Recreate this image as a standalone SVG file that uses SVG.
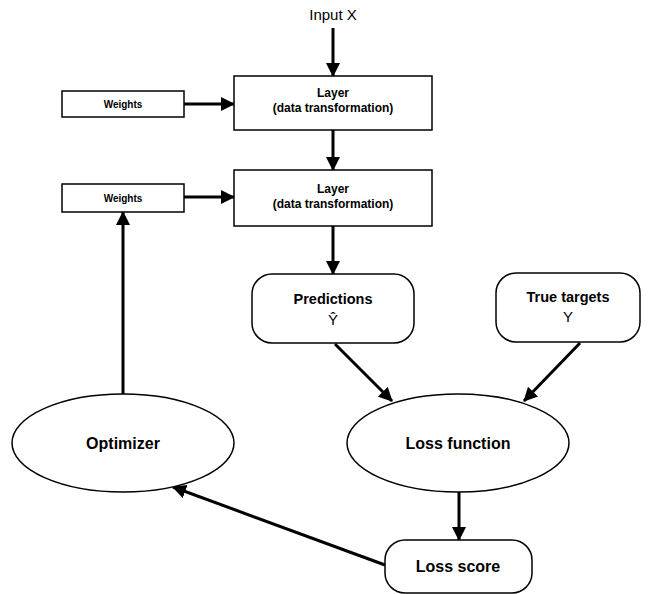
<svg xmlns="http://www.w3.org/2000/svg" width="651" height="594" viewBox="0 0 651 594">
  <defs>
    <marker id="arrow" viewBox="0 0 14 14" refX="13" refY="7" markerWidth="14" markerHeight="14" markerUnits="userSpaceOnUse" orient="auto">
      <path d="M0,0 L14,7 L0,14 Z" fill="#000"/>
    </marker>
    <style>
      .box { fill: #fff; stroke: #000; stroke-width: 1.5; }
      .edge { fill: none; stroke: #000; stroke-width: 3; marker-end: url(#arrow); }
      text { font-family: "Liberation Sans", Arial, sans-serif; fill: #000; text-anchor: middle; }
      .b { font-weight: bold; }
    </style>
  </defs>
  <rect width="651" height="594" fill="#fff"/>

  <g id="connectors">
    <line class="edge" x1="333" y1="28" x2="333" y2="76"/>
    <line class="edge" x1="184" y1="104" x2="234" y2="104"/>
    <line class="edge" x1="333" y1="130" x2="333" y2="170"/>
    <line class="edge" x1="184" y1="197" x2="234" y2="197"/>
    <line class="edge" x1="333" y1="226" x2="333" y2="274"/>
    <line class="edge" x1="123" y1="394" x2="123" y2="212"/>
    <line class="edge" x1="335" y1="344" x2="392" y2="401"/>
    <line class="edge" x1="580" y1="343" x2="524" y2="401"/>
    <line class="edge" x1="459" y1="492" x2="459" y2="540"/>
    <line class="edge" x1="385" y1="565" x2="173" y2="487"/>
  </g>

  <g id="input">
    <text x="333" y="20" font-size="15">Input X</text>
  </g>

  <g id="weights1">
    <rect class="box" x="62" y="91" width="122" height="26"/>
    <text class="b" x="123" y="107.5" font-size="10">Weights</text>
  </g>

  <g id="weights2">
    <rect class="box" x="62" y="184" width="122" height="28"/>
    <text class="b" x="123" y="201.5" font-size="10">Weights</text>
  </g>

  <g id="layer1">
    <rect class="box" x="234" y="76" width="198" height="54"/>
    <text class="b" x="333" y="97" font-size="12">Layer</text>
    <text class="b" x="333" y="112" font-size="12">(data transformation)</text>
  </g>

  <g id="layer2">
    <rect class="box" x="234" y="170" width="198" height="56"/>
    <text class="b" x="333" y="193" font-size="12">Layer</text>
    <text class="b" x="333" y="208" font-size="12">(data transformation)</text>
  </g>

  <g id="predictions">
    <rect class="box" x="252" y="274" width="162" height="69" rx="20" ry="20"/>
    <text class="b" x="333" y="304" font-size="14.5">Predictions</text>
    <text x="333" y="325" font-size="15">Ŷ</text>
  </g>

  <g id="targets">
    <rect class="box" x="496" y="273" width="144" height="69" rx="20" ry="20"/>
    <text class="b" x="568" y="302" font-size="14.5">True targets</text>
    <text x="568" y="322" font-size="15">Y</text>
  </g>

  <g id="optimizer">
    <ellipse class="box" cx="123" cy="443" rx="111" ry="49"/>
    <text class="b" x="123" y="449" font-size="16">Optimizer</text>
  </g>

  <g id="loss-function">
    <ellipse class="box" cx="458" cy="443" rx="111" ry="49"/>
    <text class="b" x="458" y="449" font-size="16">Loss function</text>
  </g>

  <g id="loss-score">
    <rect class="box" x="385" y="540" width="147" height="53" rx="20" ry="20"/>
    <text class="b" x="458" y="572" font-size="16">Loss score</text>
  </g>
</svg>
